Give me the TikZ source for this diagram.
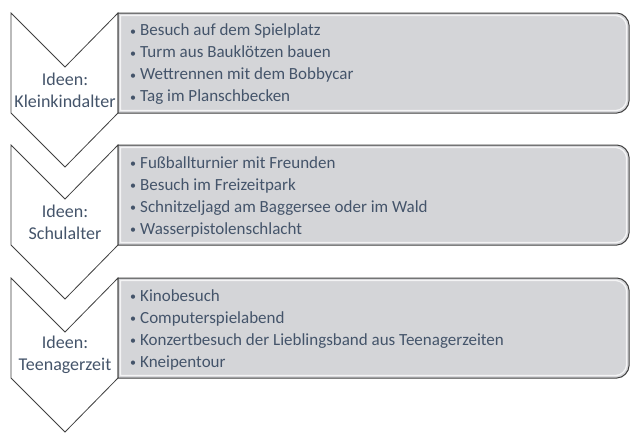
\documentclass[tikz,border=0pt]{standalone}
\usepackage{fontspec}
\setmainfont{Carlito}
\definecolor{txt}{HTML}{44546A}
\definecolor{boxfill}{HTML}{D4D5D8}
\definecolor{edge}{HTML}{404040}
\newcommand\bul{\makebox[10pt][l]{\fontsize{12}{12}\selectfont\raisebox{0.6pt}{•}}}
\tikzset{
  chev/.style={draw=edge, line width=0.8pt, fill=white, line join=miter},
  ideabox/.style={draw=edge, line width=1pt, fill=boxfill},
  bevel/.style={draw=white, line width=1.3pt, opacity=0.75},
  stage/.style={text=txt, align=center, inner sep=0pt, font=\fontsize{18}{22}\selectfont},
  items/.style={text=txt, align=left, inner sep=0pt, anchor=west, font=\fontsize{17}{22}\selectfont},
}
\begin{document}
\begin{tikzpicture}[x=1pt,y=-1pt]
\useasboundingbox (0,0) rectangle (640,440);
\fill[white] (0,0) rectangle (640,440);
\foreach \t in {13,145,278}{
  \pgfmathsetmacro\a{\t+54}
  \pgfmathsetmacro\b{\t+100}
  \pgfmathsetmacro\c{\t+154}
  \pgfmathsetmacro\ra{\t+6.6}
  \pgfmathsetmacro\rb{\t+12}
  \pgfmathsetmacro\rc{\t+88}
  \pgfmathsetmacro\rd{\t+93.4}
  \path[chev] (11,\t) -- (65,\a) -- (118,\t) -- (118,\b) -- (65,\c) -- (11,\b) -- cycle;
  \path[ideabox] (118,\t) -- (617,\t) .. controls (623.6,\t) and (629,\ra) .. (629,\rb)
     -- (629,\rc) .. controls (629,\rd) and (623.6,\b) .. (617,\b) -- (118,\b) -- cycle;
  \pgfmathsetmacro\it{\t+2.5}
  \pgfmathsetmacro\ib{\t+97.5}
  \pgfmathsetmacro\ia{\t+8}
  \pgfmathsetmacro\ic{\t+12.5}
  \pgfmathsetmacro\id{\t+87.5}
  \pgfmathsetmacro\ie{\t+92}
  \path[bevel] (120.5,\it) -- (616,\it) .. controls (621.5,\it) and (626.5,\ia) .. (626.5,\ic)
     -- (626.5,\id) .. controls (626.5,\ie) and (621.5,\ib) .. (616,\ib) -- (120.5,\ib) -- cycle;
}
\node[stage] (s1) at (65,90) {Ideen:\\Kleinkindalter};
\node[stage] (s2) at (65,222) {Ideen:\\Schulalter};
\node[stage] (s3) at (65,355) {Ideen:\\Teenagerzeit};
\node[items] (i1) at (130,64.5) {\bul Besuch auf dem Spielplatz\\\bul Turm aus Bauklötzen bauen\\\bul Wettrennen mit dem Bobbycar\\\bul Tag im Planschbecken};
\node[items] (i2) at (130,196.5) {\bul Fußballturnier mit Freunden\\\bul Besuch im Freizeitpark\\\bul Schnitzeljagd am Baggersee oder im Wald\\\bul Wasserpistolenschlacht};
\node[items] (i3) at (130,329.5) {\bul Kinobesuch\\\bul Computerspielabend\\\bul Konzertbesuch der Lieblingsband aus Teenagerzeiten\\\bul Kneipentour};
\end{tikzpicture}
\end{document}
